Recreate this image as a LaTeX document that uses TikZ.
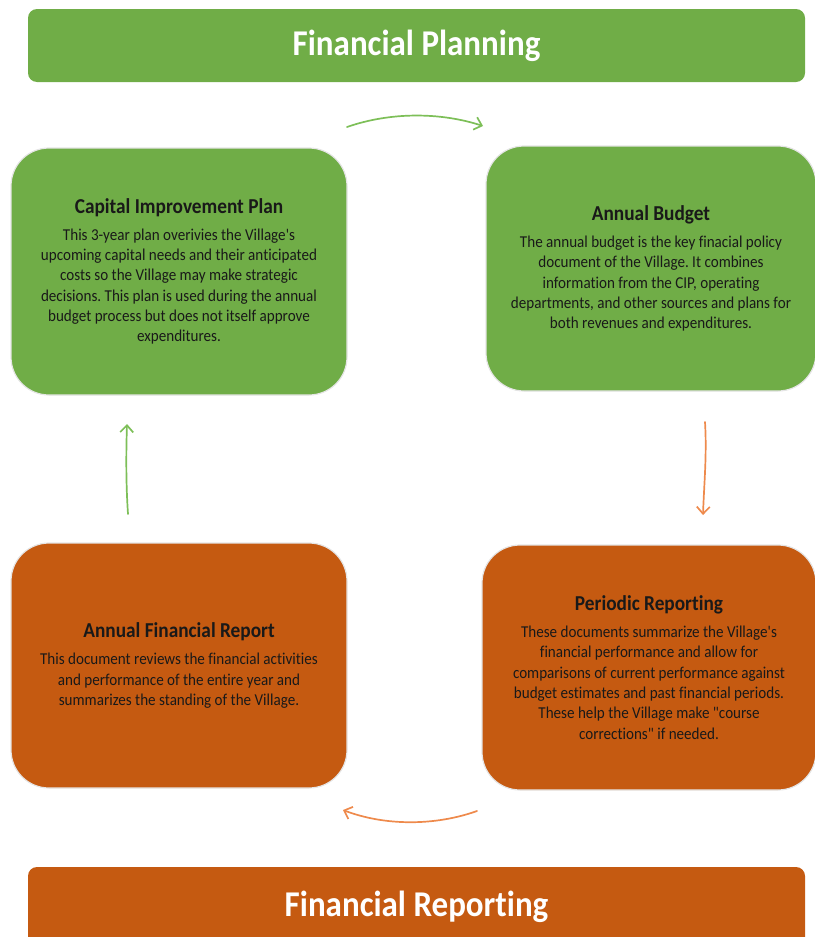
\documentclass[tikz,border=0pt]{standalone}
\usepackage{graphicx}
\usepackage{fontspec}
\setmainfont{Carlito}[Ligatures={NoCommon}]
\usetikzlibrary{arrows.meta}
\definecolor{pgreen}{HTML}{70AD47}
\definecolor{porange}{HTML}{C55A11}
\definecolor{agreen}{HTML}{7DBF58}
\definecolor{aorange}{HTML}{EE8A4C}
\newcommand{\cardtext}[2]{\scalebox{1}[1.1]{\parbox{330pt}{\centering\frenchspacing
  {\fontsize{19.3}{23}\selectfont\bfseries #1\par}\vspace{6pt}%
  \fontsize{15.1}{18.5}\selectfont #2\par}}}
\newcommand{\apos}{\textquotesingle}
\newcommand{\dq}{\textquotedbl}
\begin{document}
\begin{tikzpicture}[x=1pt,y=-1pt,
  banner/.style={rounded corners=9pt, minimum width=777pt, inner sep=0pt,
    text=white, font=\fontsize{33}{38}\selectfont\bfseries},
  card/.style={rounded corners=38pt, draw=black!10, line width=1.2pt,
    inner sep=0pt, text=black!90},
  flow/.style={line width=1.7pt, line cap=round,
    -{Straight Barb[length=7pt,width=13pt,line width=1.7pt]}}]
\useasboundingbox (0,0) rectangle (814,937);

\node[banner, fill=pgreen, minimum height=73pt] (plan) at (416.5,45.5) {\scalebox{1}[1.1]{Financial Planning}};
\node[banner, fill=porange, minimum height=80pt] (rep) at (416.5,907) {\scalebox{1}[1.1]{Financial Reporting}};

\node[card, fill=pgreen, minimum width=336pt, minimum height=247pt] (cip) at (179,271.5) {\cardtext{Capital Improvement Plan}{%
This 3-year plan overivies the Village\apos s\\
upcoming capital needs and their anticipated\\
costs so the Village may make strategic\\
decisions. This plan is used during the annual\\
budget process but does not itself approve\\
expenditures.}};

\node[card, fill=pgreen, minimum width=330pt, minimum height=245pt] (ab) at (651,268.5) {\cardtext{Annual Budget}{%
The annual budget is the key finacial policy\\
document of the Village. It combines\\
information from the CIP, operating\\
departments, and other sources and plans for\\
both revenues and expenditures.}};

\node[card, fill=porange, minimum width=336pt, minimum height=245pt] (afr) at (179,665.5) {\cardtext{Annual Financial Report}{%
This document reviews the financial activities\\
and performance of the entire year and\\
summarizes the standing of the Village.}};

\node[card, fill=porange, minimum width=334pt, minimum height=245pt] (pr) at (649,667.5) {\cardtext{Periodic Reporting}{%
These documents summarize the Village\apos s\\
financial performance and allow for\\
comparisons of current performance against\\
budget estimates and past financial periods.\\
These help the Village make \dq course\\
corrections\dq{} if needed.}};

\coordinate (t1) at (347,127);
\coordinate (t2) at (483,126);
\coordinate (r1) at (705,422);
\coordinate (r2) at (703,515);
\coordinate (b1) at (477,811);
\coordinate (b2) at (343,810);
\coordinate (l1) at (128,514);
\coordinate (l2) at (127,424);

\draw[flow, agreen] (t1) .. controls (390,112) and (440,112) .. (t2);
\draw[flow, aorange] (r1) .. controls (707,455) and (704,485) .. (r2);
\draw[flow, aorange] (b1) .. controls (435,826) and (385,826) .. (b2);
\draw[flow, agreen] (l1) .. controls (126,485) and (126,455) .. (l2);
\end{tikzpicture}
\end{document}
